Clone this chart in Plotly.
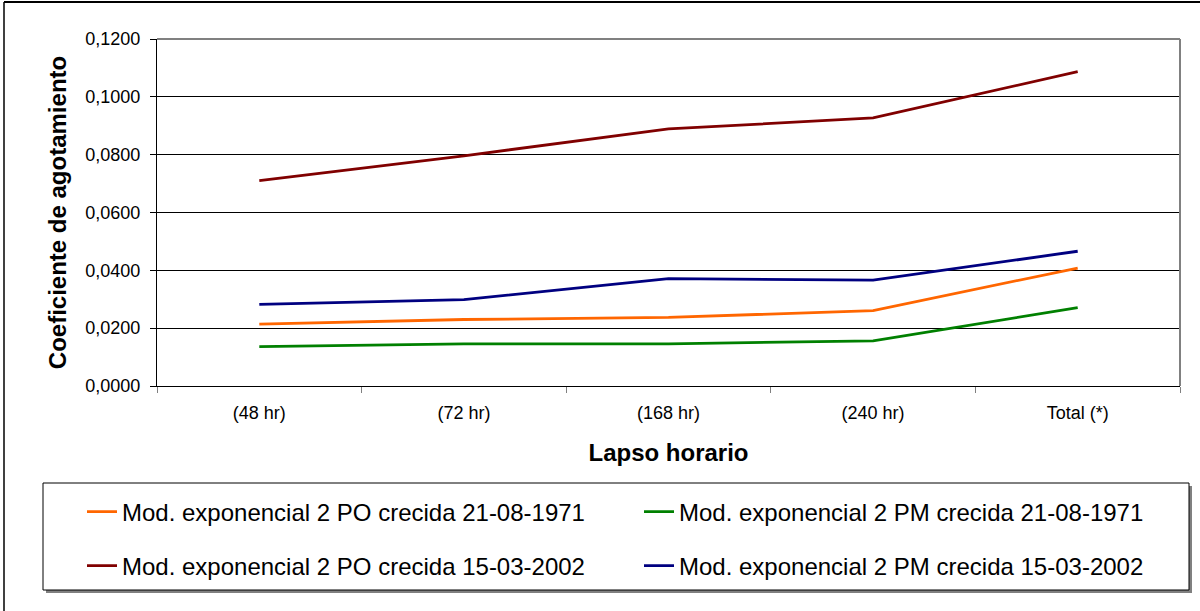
import plotly.graph_objects as go

categories = ["(48 hr)", "(72 hr)", "(168 hr)", "(240 hr)", "Total (*)"]
po_1971 = [0.0214, 0.0230, 0.0237, 0.0261, 0.0408]
pm_1971 = [0.0136, 0.0146, 0.0146, 0.0156, 0.0271]
po_2002 = [0.0710, 0.0796, 0.0889, 0.0927, 0.1087]
pm_2002 = [0.0282, 0.0299, 0.0371, 0.0366, 0.0466]
names = [
    "Mod. exponencial 2 PO crecida 21-08-1971",
    "Mod. exponencial 2 PM crecida 21-08-1971",
    "Mod. exponencial 2 PO crecida 15-03-2002",
    "Mod. exponencial 2 PM crecida 15-03-2002",
]
y_ticks = [0, 0.02, 0.04, 0.06, 0.08, 0.10, 0.12]

W, H = 1200, 611
L, R, T, B = 157, 20, 39, 225
pw, ph = W - L - R, H - T - B

def px(x):
    return (x - L) / pw

def py(y):
    return (H - B - y) / ph

FONT = "Liberation Sans, Arial, sans-serif"

fig = go.Figure()
series = [
    (po_1971, "#FF6600", "legend"),
    (pm_1971, "#008000", "legend"),
    (po_2002, "#800000", "legend2"),
    (pm_2002, "#000080", "legend2"),
]
for (vals, col, lg), nm in zip(series, names):
    fig.add_trace(go.Scatter(x=categories, y=vals, name=nm, mode="lines",
                             line=dict(color=col, width=2.8), legend=lg))

leg_common = dict(orientation="h", xanchor="left", yanchor="middle",
                  font=dict(family=FONT, size=24, color="black"),
                  bgcolor="rgba(0,0,0,0)", borderwidth=0,
                  entrywidth=512, entrywidthmode="pixels")

fig.update_layout(
    width=W, height=H,
    margin=dict(l=L, r=R, t=T, b=B, autoexpand=False),
    paper_bgcolor="white", plot_bgcolor="white",
    separators=",.",
    font=dict(family=FONT, color="black"),
    xaxis=dict(
        type="category", range=[-0.5, 4.5], tickson="boundaries", ticks="outside", ticklen=6,
        tickcolor="#808080", showline=True, linecolor="black", linewidth=1,
        showgrid=False, tickfont=dict(size=18), ticklabelstandoff=10,
        title=dict(text="<b>Lapso horario</b>", font=dict(size=24), standoff=22),
    ),
    yaxis=dict(
        range=[0, 0.12], tickvals=y_ticks, tickformat=".4f", ticks="outside",
        ticklen=6, tickcolor="black", showline=True, linecolor="black", linewidth=1,
        showgrid=True, gridcolor="black", gridwidth=1, zeroline=False,
        tickfont=dict(size=18), ticklabelstandoff=6,
        title=dict(text="<b>Coeficiente de agotamiento</b>", font=dict(size=24), standoff=11),
    ),
    legend=dict(x=px(82), y=py(512), **leg_common),
    legend2=dict(x=px(82), y=py(566), **leg_common),
    showlegend=True,
)

shapes = [
    # plot area border (top and right, gray)
    dict(type="line", xref="x domain", yref="y domain", x0=0, x1=1, y0=1, y1=1,
         line=dict(color="#808080", width=2), layer="above"),
    dict(type="line", xref="x domain", yref="y domain", x0=1, x1=1, y0=0, y1=1,
         line=dict(color="#808080", width=2), layer="above"),
    # legend box shadow and box
    dict(type="rect", xref="paper", yref="paper", x0=px(46), x1=px(1192), y0=py(593), y1=py(486),
         line=dict(width=0), fillcolor="#808080", layer="below"),
    dict(type="rect", xref="paper", yref="paper", x0=px(43), x1=px(1189), y0=py(590), y1=py(483),
         line=dict(color="black", width=1), fillcolor="white", layer="below"),
    # outer chart frame
    dict(type="line", xref="paper", yref="paper", x0=px(4), x1=px(4), y0=py(2), y1=py(611),
         line=dict(color="#404040", width=2)),
    dict(type="line", xref="paper", yref="paper", x0=px(4), x1=px(1200), y0=py(2), y1=py(2),
         line=dict(color="black", width=2)),
]
fig.update_layout(shapes=shapes)

fig.write_html("out.html", config={"displayModeBar": False},
               post_script="document.body.style.margin='0';document.body.style.overflow='hidden';")
